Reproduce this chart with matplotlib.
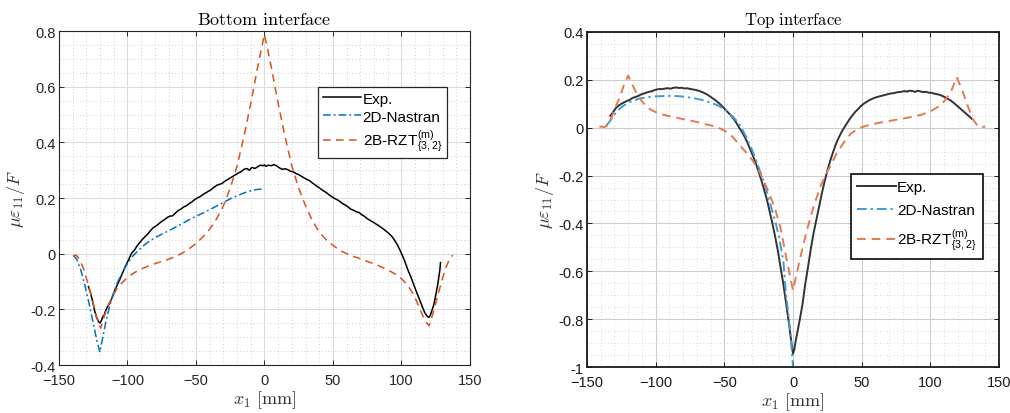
import matplotlib
matplotlib.use("Agg")
import matplotlib.pyplot as plt
from matplotlib.ticker import MultipleLocator

plt.rcParams['mathtext.fontset'] = 'cm'
plt.rcParams['font.family'] = ['Liberation Sans', 'DejaVu Sans']

# ---------------- Bottom interface ----------------
bot_exp_x = [-128.5, -127, -125.5, -124, -122.5, -121, -120, -119, -118, -117, -116, -114.5,
             -113, -111, -109, -107, -105, -103, -101, -99, -97, -95, -93, -91, -89, -87, -85,
             -83, -81, -79, -77, -75, -73, -71, -69, -67, -65, -63, -61, -59, -57, -55, -53,
             -51, -49, -47, -45, -43, -41, -39, -37, -35, -33, -31, -29, -27, -25, -23, -21,
             -19, -17, -15, -13, -11, -10, -9, -7, -5, -3, -1, 0, 1, 3, 5, 7, 9, 11, 13, 15,
             17, 19, 21, 23, 25, 27, 29, 31, 33, 35, 37, 39, 41, 43, 45, 47, 49, 51, 53, 55,
             57, 59, 61, 63, 65, 67, 69, 71, 73, 75, 77, 79, 81, 83, 85, 87, 89, 91, 93, 95,
             97, 99, 101, 103, 105, 107, 109, 111, 113, 115, 117, 119, 120, 121, 122, 123.5,
             125, 126.5, 128, 128.5]
bot_exp_y = [-0.118, -0.140, -0.170, -0.205, -0.230, -0.245, -0.249, -0.240, -0.226, -0.221,
             -0.205, -0.190, -0.178, -0.155, -0.128, -0.108, -0.085, -0.062, -0.040, -0.020,
             0.002, 0.012, 0.028, 0.040, 0.052, 0.062, 0.072, 0.084, 0.094, 0.100, 0.108,
             0.116, 0.122, 0.130, 0.135, 0.136, 0.146, 0.155, 0.160, 0.168, 0.172, 0.180,
             0.186, 0.194, 0.200, 0.205, 0.212, 0.218, 0.224, 0.230, 0.238, 0.245, 0.249,
             0.252, 0.260, 0.266, 0.272, 0.278, 0.284, 0.290, 0.295, 0.303, 0.306, 0.300,
             0.306, 0.310, 0.306, 0.312, 0.318, 0.316, 0.319, 0.314, 0.318, 0.316, 0.320,
             0.315, 0.308, 0.303, 0.305, 0.302, 0.296, 0.294, 0.288, 0.284, 0.278, 0.272,
             0.267, 0.262, 0.254, 0.247, 0.240, 0.233, 0.226, 0.220, 0.212, 0.205, 0.199,
             0.194, 0.188, 0.180, 0.175, 0.168, 0.160, 0.156, 0.151, 0.148, 0.140, 0.134,
             0.126, 0.120, 0.114, 0.108, 0.102, 0.095, 0.088, 0.080, 0.072, 0.062, 0.048,
             0.032, 0.012, -0.010, -0.035, -0.062, -0.085, -0.112, -0.138, -0.162, -0.188,
             -0.212, -0.226, -0.229, -0.222, -0.208, -0.185, -0.150, -0.110, -0.060, -0.032]

bot_nas_x = [-139.6, -137, -134, -131, -128, -125, -122, -120.1, -118, -116, -113, -110,
             -107, -104, -100, -96, -92, -88, -84, -80, -75, -70, -65, -60, -55, -50, -45,
             -40, -35, -30, -25, -20, -15, -10, -5, 0]
bot_nas_y = [-0.006, -0.020, -0.060, -0.115, -0.180, -0.250, -0.320, -0.354, -0.300, -0.250,
             -0.187, -0.140, -0.100, -0.070, -0.035, -0.008, 0.012, 0.030, 0.045, 0.057,
             0.070, 0.082, 0.095, 0.108, 0.122, 0.134, 0.146, 0.158, 0.171, 0.184, 0.197,
             0.208, 0.218, 0.226, 0.231, 0.233]

bot_rzt_x = [-139.6, -137.6, -135, -132, -129, -126, -123, -119.6, -117, -114, -111, -108,
             -104, -100, -95, -90, -85, -80, -75, -70, -65, -60, -55, -50, -45, -40, -35,
             -30, -25, -20, -15, -10, -5, 0, 5, 10, 15, 20, 25, 30, 35, 40, 45, 50, 55, 60,
             65, 70, 75, 80, 85, 90, 95, 100, 104, 108, 111, 114, 117, 120.1, 123, 126, 129,
             132, 135, 137.4]
bot_rzt_y = [-0.009, -0.005, -0.020, -0.055, -0.105, -0.160, -0.220, -0.268, -0.225, -0.185,
             -0.155, -0.127, -0.105, -0.085, -0.068, -0.055, -0.045, -0.036, -0.028, -0.020,
             -0.010, 0.002, 0.018, 0.036, 0.060, 0.088, 0.125, 0.172, 0.235, 0.315, 0.420,
             0.540, 0.670, 0.788, 0.670, 0.540, 0.420, 0.315, 0.235, 0.172, 0.118, 0.078,
             0.050, 0.030, 0.012, 0.000, -0.010, -0.018, -0.028, -0.036, -0.047, -0.058,
             -0.072, -0.090, -0.110, -0.140, -0.170, -0.205, -0.240, -0.259, -0.215, -0.160,
             -0.105, -0.055, -0.020, -0.005]

# ---------------- Top interface ----------------
top_exp_x = [-133, -131, -129, -127, -125, -123, -121, -119, -117, -115, -113, -111, -109,
             -107, -105, -103, -101, -99, -97, -95, -93, -91, -89, -87, -85, -83, -81, -79,
             -77, -75, -73, -71, -69, -67, -65, -63, -61, -59, -57, -55, -53, -51, -49, -47,
             -45, -43, -41, -39, -37, -35, -33, -31, -29, -27, -25, -23, -21, -19, -17, -15,
             -13, -11, -9, -7, -5, -3, -1, 0, 1, 2, 3, 5, 7, 9, 11, 13, 15, 17, 19, 21, 23,
             25, 27, 29, 31, 33, 35, 37, 39, 41, 43, 45, 47, 49, 51, 53, 55, 57, 59, 61, 63,
             65, 67, 69, 71, 73, 75, 77, 79, 81, 83, 85, 87, 89, 91, 93, 95, 97, 99, 101,
             103, 105, 107, 109, 111, 113, 115, 117, 119, 121, 123, 125, 127, 129, 130]
top_exp_y = [0.050, 0.065, 0.082, 0.092, 0.100, 0.106, 0.112, 0.116, 0.124, 0.128, 0.132,
             0.138, 0.142, 0.146, 0.150, 0.152, 0.157, 0.160, 0.162, 0.161, 0.164, 0.165,
             0.163, 0.167, 0.168, 0.166, 0.167, 0.164, 0.165, 0.162, 0.160, 0.158, 0.155,
             0.151, 0.146, 0.140, 0.133, 0.125, 0.117, 0.108, 0.098, 0.086, 0.074, 0.062,
             0.050, 0.036, 0.018, -0.002, -0.020, -0.040, -0.065, -0.092, -0.120, -0.150,
             -0.185, -0.220, -0.260, -0.300, -0.350, -0.400, -0.455, -0.515, -0.585, -0.655,
             -0.735, -0.815, -0.905, -0.945, -0.925, -0.890, -0.860, -0.800, -0.735, -0.650,
             -0.580, -0.505, -0.440, -0.385, -0.330, -0.275, -0.225, -0.180, -0.140, -0.105,
             -0.072, -0.045, -0.022, -0.002, 0.016, 0.034, 0.050, 0.064, 0.076, 0.088, 0.098,
             0.106, 0.113, 0.119, 0.124, 0.128, 0.131, 0.134, 0.137, 0.140, 0.143, 0.144,
             0.147, 0.149, 0.150, 0.153, 0.151, 0.155, 0.153, 0.150, 0.155, 0.151, 0.149,
             0.150, 0.146, 0.146, 0.142, 0.140, 0.137, 0.132, 0.126, 0.120, 0.113, 0.104,
             0.094, 0.084, 0.074, 0.064, 0.054, 0.044, 0.038]

top_nas_x = [-136, -133, -130, -127, -124, -120, -116, -112, -108, -104, -100, -96, -92,
             -88, -84, -80, -75, -70, -65, -60, -55, -50, -46, -42, -38, -34, -30, -26,
             -21, -17, -13, -10, -7, -5, -3, -1, 0]
top_nas_y = [0.008, 0.030, 0.055, 0.075, 0.090, 0.104, 0.114, 0.121, 0.126, 0.129, 0.131,
             0.132, 0.133, 0.133, 0.132, 0.130, 0.126, 0.121, 0.114, 0.105, 0.094, 0.078,
             0.058, 0.035, 0.005, -0.040, -0.090, -0.150, -0.230, -0.310, -0.390, -0.460,
             -0.560, -0.700, -0.800, -0.920, -1.000]

top_rzt_x = [-141, -137, -134, -130, -126, -123, -120, -117, -114, -110, -105, -100, -95,
             -90, -85, -80, -75, -70, -65, -60, -55, -50, -45, -41, -37, -33, -29, -25, -21,
             -17, -13, -9, -5, 0, 5, 10, 15, 20, 24, 28, 32, 37, 42, 47, 52, 58, 64, 70, 76,
             82, 88, 94, 100, 105, 110, 115, 119.2, 123, 127, 131, 135, 140]
top_rzt_y = [0.005, 0.003, 0.015, 0.075, 0.130, 0.180, 0.218, 0.180, 0.145, 0.110, 0.080,
             0.065, 0.055, 0.048, 0.042, 0.036, 0.030, 0.024, 0.016, 0.010, 0.002, -0.012,
             -0.032, -0.058, -0.085, -0.110, -0.140, -0.178, -0.225, -0.280, -0.340, -0.420,
             -0.540, -0.680, -0.550, -0.430, -0.330, -0.245, -0.195, -0.150, -0.105, -0.062,
             -0.025, -0.005, 0.006, 0.015, 0.022, 0.028, 0.034, 0.040, 0.047, 0.055, 0.068,
             0.085, 0.110, 0.150, 0.211, 0.160, 0.095, 0.035, 0.003, 0.004]

labels = ['Exp.', '2D-Nastran',
          r'2B-RZT$^{\mathregular{(m)}}_{\mathregular{\{3,2\}}}$']

fig = plt.figure(figsize=(10.10, 4.14), dpi=100)
fig.patch.set_facecolor('white')

ax1 = fig.add_axes([0.0584, 0.1159, 0.4069, 0.8068])
ax2 = fig.add_axes([0.5812, 0.1111, 0.4079, 0.8092])


def tick_text(v, pos):
    v = round(v, 6)
    return f'{v:g}' if v != 0 else '0'


def style_axes(ax, ylim, ymaj, ymin, grid_major, grid_minor, tick_color, frame_lw):
    ax.set_xlim(-150, 150)
    ax.set_ylim(*ylim)
    ax.xaxis.set_major_locator(MultipleLocator(50))
    ax.xaxis.set_minor_locator(MultipleLocator(10))
    ax.yaxis.set_major_locator(MultipleLocator(ymaj))
    ax.yaxis.set_minor_locator(MultipleLocator(ymin))
    ax.yaxis.set_major_formatter(plt.FuncFormatter(tick_text))
    ax.grid(True, which='major', color=grid_major, linewidth=0.8, linestyle='-')
    ax.grid(True, which='minor', color=grid_minor, linewidth=0.7, linestyle=(0, (1, 2.5)))
    ax.set_axisbelow(True)
    ax.tick_params(which='both', direction='in', top=True, right=True,
                   labelsize=10.5, colors=tick_color, labelcolor=tick_color)
    ax.tick_params(which='major', length=3.5, width=0.7)
    ax.tick_params(axis='x', which='major', pad=6)
    ax.tick_params(axis='y', which='major', pad=2.5)
    ax.tick_params(which='minor', length=0)
    for s in ax.spines.values():
        s.set_linewidth(frame_lw)
        s.set_color(tick_color)


style_axes(ax1, (-0.4, 0.8), 0.2, 0.05, '#dcdcdc', '#cfcfcf', '#262626', 0.8)
style_axes(ax2, (-1.0, 0.4), 0.2, 0.05, '#cdcdcd', '#d6d6d6', '#1a1a1a', 1.3)

# left panel curves
ax1.plot(bot_exp_x, bot_exp_y, color='black', lw=1.1, label=labels[0])
ax1.plot(bot_nas_x, bot_nas_y, color='#0072BD', lw=1.1, linestyle=(0, (5, 2, 1.2, 2)),
         label=labels[1])
ax1.plot(bot_rzt_x, bot_rzt_y, color='#D95319', lw=1.1, linestyle=(0, (5, 3.5)),
         label=labels[2])

# right panel curves
ax2.plot(top_exp_x, top_exp_y, color='#333333', lw=1.4, label=labels[0])
ax2.plot(top_nas_x, top_nas_y, color='#3C9BD8', lw=1.4, linestyle=(0, (5, 2, 1.2, 2)),
         label=labels[1])
ax2.plot(top_rzt_x, top_rzt_y, color='#E57A4E', lw=1.4, linestyle=(0, (4.5, 3)),
         label=labels[2])

ax1.set_title(r'$\mathrm{Bottom\ interface}$', fontsize=13, pad=5)
ax2.set_title(r'$\mathrm{Top\ interface}$', fontsize=12, pad=6)
for ax in (ax1, ax2):
    ax.set_xlabel(r'$x_1\ [\mathrm{mm}]$', fontsize=13, labelpad=1, color='#333333')
    ax.set_ylabel(r'$\mu\varepsilon_{11}/F$', fontsize=13, labelpad=2, color='#333333')

leg1 = ax1.legend(loc='upper right', bbox_to_anchor=(0.944, 0.832), borderaxespad=0,
                  fontsize=11, handlelength=2.5, handletextpad=0.1, labelspacing=0.25,
                  borderpad=0.3, fancybox=False, framealpha=1, edgecolor='#262626')
leg1.get_frame().set_linewidth(0.9)
leg2 = ax2.legend(loc='upper right', bbox_to_anchor=(0.961, 0.576), borderaxespad=0,
                  fontsize=11, handlelength=2.5, handletextpad=0.1, labelspacing=0.6,
                  borderpad=0.4, fancybox=False, framealpha=1, edgecolor='#1a1a1a')
leg2.get_frame().set_linewidth(1.3)

fig.savefig('out.png', dpi=100)
